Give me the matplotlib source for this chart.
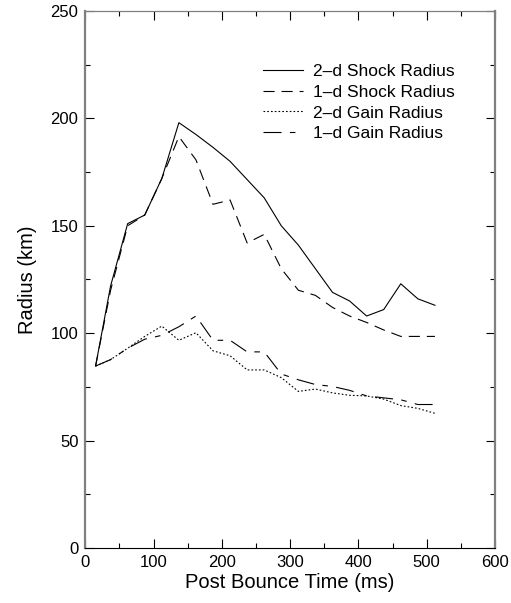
import matplotlib
matplotlib.use("Agg")
import matplotlib.pyplot as plt
from matplotlib.ticker import MultipleLocator

plt.rcParams['font.family'] = ['Liberation Sans', 'DejaVu Sans']
plt.rcParams['lines.scale_dashes'] = False

time_ms = [15, 37, 62, 87, 112, 137, 162, 187, 212, 237, 262, 287, 312, 337, 362, 387, 412, 437, 462, 487, 512]
shock_2d = [84.7, 122, 151, 155, 172, 198, 192.5, 186.5, 180, 171.5, 163, 150, 141, 130, 119, 115, 108, 111, 123, 116, 113]
shock_1d = [84.7, 120, 150, 155, 172, 191.5, 180.7, 160, 162, 142, 146, 130, 120, 117.6, 112, 108, 105, 101.5, 98.5, 98.5, 98.5]
gain_2d = [84.7, 87.7, 93, 98.5, 103.3, 96.7, 100.2, 91.8, 89.5, 82.9, 82.9, 79.3, 72.9, 74, 72.2, 71.1, 70.8, 69.3, 66.3, 65, 62.7]
gain_1d = [84.7, 87.7, 93, 97.2, 99, 103, 108, 96.7, 96.7, 91.3, 91.3, 81, 78.3, 76.1, 75.2, 73.4, 70.8, 69.9, 69, 66.8, 66.8]

labels = ["2\u2013d Shock Radius", "1\u2013d Shock Radius", "2\u2013d Gain Radius", "1\u2013d Gain Radius"]

fig = plt.figure(figsize=(5.11, 6.03), dpi=100)
ax = fig.add_axes([0.167, 0.0912, 0.8017, 0.8906])

lw = 0.8
ax.plot(time_ms, shock_2d, color='black', lw=lw, label=labels[0])
ax.plot(time_ms, shock_1d, color='black', lw=lw, dashes=(8, 5), label=labels[1])
ax.plot(time_ms, gain_2d, color='black', lw=lw, dashes=(1.2, 1.5), label=labels[2])
ax.plot(time_ms, gain_1d, color='black', lw=lw, dashes=(13, 6, 4, 6), label=labels[3])

ax.set_xlim(0, 600)
ax.set_ylim(0, 250)
ax.xaxis.set_major_locator(MultipleLocator(100))
ax.xaxis.set_minor_locator(MultipleLocator(50))
ax.yaxis.set_major_locator(MultipleLocator(50))
ax.yaxis.set_minor_locator(MultipleLocator(25))
ax.tick_params(which='both', direction='in', top=True, right=True, colors='black', width=0.8, labelsize=12)
ax.tick_params(which='major', length=6.5, pad=5)
ax.tick_params(which='minor', length=3.5)

for side in ['left', 'right']:
    ax.spines[side].set_color('#808080')
    ax.spines[side].set_linewidth(1.6)
ax.spines['top'].set_color('#808080')
ax.spines['top'].set_linewidth(0.9)
ax.spines['bottom'].set_color('black')
ax.spines['bottom'].set_linewidth(0.8)

ax.set_xlabel("Post Bounce Time (ms)", fontsize=14.5, labelpad=2)
ax.set_ylabel("Radius (km)", fontsize=14.5, labelpad=10)

ax.legend(loc='upper left', bbox_to_anchor=(0.434, 0.902), frameon=False, fontsize=12.5,
          handlelength=2.3, handletextpad=0.58, labelspacing=0.33, borderpad=0, borderaxespad=0)

fig.savefig("out.png", dpi=100)
